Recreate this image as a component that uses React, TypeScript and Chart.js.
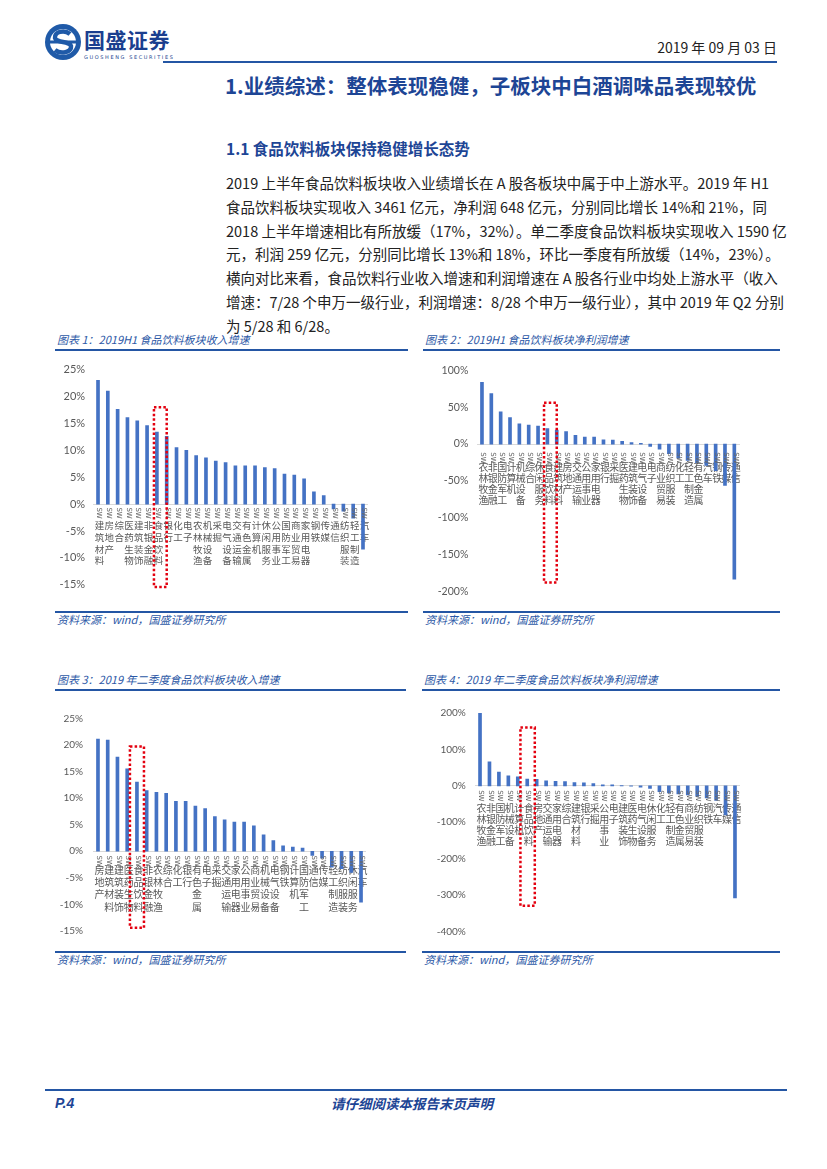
import React, { useEffect, useRef } from "react";
import { Chart, registerables } from "chart.js";
Chart.register(...registerables);

// ---------- DATA ----------
const c1Labels = ["建筑材料","房地产","综合","医药生物","建筑装饰","非银金融","食品饮料","银行","化工","电子","农林牧渔","机械设备","采掘","电气设备","交通运输","有色金属","计算机","休闲服务","公用事业","国防军工","商业贸易","家用电器","钢铁","传媒","通信","纺织服装","轻工制造","汽车"];
const c1Values = [23.0,21.0,17.6,16.1,15.5,14.6,13.4,12.6,10.5,10.0,9.0,8.6,8.0,7.7,7.1,7.1,7.1,6.8,6.6,5.6,5.4,4.7,2.3,1.6,-0.9,-1.3,-2.6,-8.4];
const c1YTicks = [25,20,15,10,5,0,-5,-10,-15];

const c2Labels = ["农林牧渔","非银金融","国防军工","计算机","机械设备","综合","休闲服务","食品饮料","建筑材料","房地产","交通运输","公用事业","家用电器","银行","采掘","医药生物","建筑装饰","电气设备","电子","商业贸易","纺织服装","化工","轻工制造","有色金属","汽车","钢铁","传媒","通信"];
const c2Values = [83.6,68.5,43.6,36.0,27.6,25.8,24.5,21.0,19.1,17.0,12.0,9.4,9.4,5.8,5.5,3.6,2.2,0.9,-3.0,-7.0,-13.0,-19.0,-22.0,-25.0,-29.0,-36.0,-56.0,-183.0];
const c2YTicks = [100,50,0,-50,-100,-150,-200];

const c3Labels = ["房地产","建筑材料","建筑装饰","医药生物","食品饮料","非银金融","农林牧渔","综合","化工","银行","有色金属","电子","采掘","交通运输","家用电器","公用事业","商业贸易","机械设备","电气设备","钢铁","计算机","国防军工","通信","传媒","轻工制造","纺织服装","休闲服务","汽车"];
const c3Values = [21.1,20.9,17.7,15.5,13.0,11.4,11.1,10.9,9.4,9.4,8.5,8.0,6.5,5.9,5.5,5.5,4.8,3.1,2.0,1.0,0.8,0.6,-0.8,-1.3,-3.0,-3.3,-4.0,-9.6];
const c3YTicks = [25,20,15,10,5,0,-5,-10,-15];

const c4Labels = ["农林牧渔","非银金融","国防军工","机械设备","计算机","食品饮料","房地产","交通运输","家用电器","综合","建筑材料","银行","采掘","公用事业","电子","建筑装饰","医药生物","电气设备","休闲服务","化工","轻工制造","有色金属","商业贸易","纺织服装","钢铁","汽车","传媒","通信"];
const c4Values = [201,65.6,38,27.5,24.8,18.5,18.0,14.0,12.4,11.5,8.8,8.0,6.2,3.0,2.5,1.0,-1.0,-3.5,-7.0,-16.0,-19.5,-22.0,-25.0,-29.0,-33.0,-40.0,-80.0,-308.0];
const c4YTicks = [200,100,0,-100,-200,-300,-400];

const HIGHLIGHT = "食品饮料";

// ---------- STYLES ----------
const BLUE = "#1d4595";
const LINE_BLUE = "#2456a4";
const BAR = "#4472c4";
const CJK = '"Noto Sans CJK SC", "Noto Sans", sans-serif';

type Rect = { left: number; top: number; width: number; height: number };
type Area = { left: number; top: number; right: number; bottom: number };

type PanelProps = {
  labels: string[];
  values: number[];
  yTicks: number[];
  cv: Rect;
  area: Area;
  yPad: number;
  yFont: number;
  xPad: number;
  xLine: number;
  xFont: number;
  swOff: number;
  box: { l: number; r: number; top: number; bottom: number };
};

function BarPanel(p: PanelProps) {
  const ref = useRef<HTMLCanvasElement | null>(null);
  useEffect(() => {
    if (!ref.current) return;
    const min = Math.min(...p.yTicks);
    const max = Math.max(...p.yTicks);
    const step = Math.abs(p.yTicks[0] - p.yTicks[1]);
    const hi = p.labels.indexOf(HIGHLIGHT);
    const overlay = {
      id: "overlay",
      afterDraw(chart: any) {
        const { ctx } = chart;
        const x = chart.scales.x;
        const y = chart.scales.y;
        const y0 = y.getPixelForValue(0);
        ctx.save();
        ctx.font = '7px "DejaVu Sans", sans-serif';
        ctx.fillStyle = "#666666";
        ctx.textAlign = "center";
        ctx.textBaseline = "middle";
        p.labels.forEach((_, i) => {
          const px = x.getPixelForValue(i) + 1;
          ctx.save();
          ctx.translate(px, y0 + p.swOff);
          ctx.rotate(Math.PI / 2);
          ctx.fillText("SW", 0, 0);
          ctx.restore();
        });
        const bl = x.getPixelForValue(hi + p.box.l);
        const br = x.getPixelForValue(hi + p.box.r);
        const bt = y.getPixelForValue(p.box.top);
        const bb = y.getPixelForValue(p.box.bottom);
        ctx.strokeStyle = "#e3000f";
        ctx.lineWidth = 2.5;
        ctx.setLineDash([2.5, 2.2]);
        ctx.strokeRect(bl, bt, br - bl, bb - bt);
        ctx.restore();
      },
    };
    const chart = new Chart(ref.current, {
      type: "bar",
      data: {
        labels: p.labels.map((s) => s.split("")),
        datasets: [
          {
            data: p.values,
            backgroundColor: BAR,
            barThickness: 3,
          },
        ],
      },
      options: {
        animation: false,
        responsive: false,
        maintainAspectRatio: false,
        devicePixelRatio: 1,
        layout: {
          padding: {
            left: 0,
            top: p.area.top - p.cv.top,
            right: p.cv.left + p.cv.width - p.area.right,
            bottom: p.cv.top + p.cv.height - p.area.bottom,
          },
        },
        plugins: { legend: { display: false }, tooltip: { enabled: false }, title: { display: false } },
        scales: {
          x: {
            type: "category",
            position: { y: 0 } as any,
            offset: true,
            grid: { display: false, drawTicks: false },
            border: { display: true, color: "#d9d9d9", width: 1 },
            ticks: {
              autoSkip: false,
              maxRotation: 0,
              minRotation: 0,
              padding: p.xPad,
              labelOffset: 1.5,
              color: "#595959",
              font: { family: CJK, size: p.xFont, lineHeight: p.xLine / p.xFont },
            },
          },
          y: {
            type: "linear",
            min,
            max,
            afterFit: (s: any) => {
              s.width = p.area.left - p.cv.left;
            },
            afterBuildTicks: (s: any) => {
              s.ticks = p.yTicks.map((v) => ({ value: v }));
            },
            grid: { display: false, drawTicks: false },
            border: { display: false },
            ticks: {
              stepSize: step,
              padding: p.yPad,
              color: "#595959",
              font: { family: "Lato, 'Open Sans', sans-serif", size: p.yFont },
              callback: (v: any) => `${v}%`,
            },
          },
        },
      } as any,
      plugins: [overlay],
    });
    return () => chart.destroy();
  }, []);
  return (
    <canvas
      ref={ref}
      width={p.cv.width}
      height={p.cv.height}
      style={{ position: "absolute", left: p.cv.left, top: p.cv.top, width: p.cv.width, height: p.cv.height }}
    />
  );
}

const abs = (left: number, top: number, extra: React.CSSProperties = {}): React.CSSProperties => ({
  position: "absolute",
  left,
  top,
  whiteSpace: "nowrap",
  ...extra,
});

const paraLines = [
  "2019 上半年食品饮料板块收入业绩增长在 A 股各板块中属于中上游水平。2019 年 H1",
  "食品饮料板块实现收入 3461 亿元，净利润 648 亿元，分别同比增长 14%和 21%，同",
  "2018 上半年增速相比有所放缓（17%，32%）。单二季度食品饮料板块实现收入 1590 亿",
  "元，利润 259 亿元，分别同比增长 13%和 18%，环比一季度有所放缓（14%，23%）。",
  "横向对比来看，食品饮料行业收入增速和利润增速在 A 股各行业中均处上游水平（收入",
  "增速：7/28 个申万一级行业，利润增速：8/28 个申万一级行业），其中 2019 年 Q2 分别",
  "为 5/28 和 6/28。",
];

function Hline({ x1, x2, y, h = 2 }: { x1: number; x2: number; y: number; h?: number }) {
  return <div style={{ position: "absolute", left: x1, top: y, width: x2 - x1, height: h, background: LINE_BLUE }} />;
}

function PanelFrame({ x1, x2, top, bottom, title }: { x1: number; x2: number; top: number; bottom: number; title: string }) {
  const txt: React.CSSProperties = { fontFamily: CJK, fontStyle: "italic", fontSize: 11, color: "#2c58a6", lineHeight: "14px" };
  return (
    <>
      <div style={abs(x1 + 2, top - 17, txt)}>{title}</div>
      <Hline x1={x1} x2={x2} y={top} />
      <Hline x1={x1} x2={x2} y={bottom} />
      <div style={abs(x1 + 2, bottom + 1, txt)}>资料来源：wind，国盛证券研究所</div>
    </>
  );
}

export default function App() {
  return (
    <div style={{ position: "absolute", left: 0, top: 0, width: 827, height: 1169, background: "#fff", overflow: "hidden", fontFamily: CJK }}>
      {/* logo */}
      <svg style={{ position: "absolute", left: 44, top: 23 }} width="38" height="38" viewBox="0 0 38 38">
        <circle cx="19" cy="19" r="18" fill="#1f5aa8" />
        <circle cx="19" cy="19" r="13" fill="#fff" />
        <path d="M26 11 C 20 6, 10 9, 11 15 C 12 20, 26 18, 27 23 C 28 29, 17 32, 11 27" stroke="#1f5aa8" strokeWidth="4.5" fill="none" />
        <rect x="4" y="17.5" width="30" height="3" fill="#1f5aa8" />
      </svg>
      <div style={abs(84, 26, { fontSize: 21, fontWeight: 700, color: "#1b3f8f", letterSpacing: 0.5, lineHeight: "26px" })}>国盛证券</div>
      <div style={abs(84, 54, { fontSize: 5, color: "#1b3f8f", letterSpacing: 1.6, lineHeight: "6px", fontFamily: "DejaVu Sans" })}>GUOSHENG SECURITIES</div>
      <div style={abs(600, 38, { width: 177, textAlign: "right", fontSize: 14, color: "#222", lineHeight: "18px" })}>2019 年 09 月 03 日</div>
      <Hline x1={163} x2={777} y={61} />
      <div style={abs(225, 72, { fontSize: 20.5, fontWeight: 700, color: BLUE, lineHeight: "26px" })}>1.业绩综述：整体表现稳健，子板块中白酒调味品表现较优</div>

      <div style={abs(226, 138, { fontSize: 15.5, fontWeight: 700, color: BLUE, lineHeight: "20px" })}>1.1 食品饮料板块保持稳健增长态势</div>
      {paraLines.map((t, i) => (
        <div
          key={i}
          style={{
            position: "absolute",
            left: 226,
            top: 171 + i * 23.8,
            width: 541,
            fontSize: 14.5,
            lineHeight: "24px",
            color: "#222",
            whiteSpace: "nowrap",
            textAlign: i < paraLines.length - 1 ? "justify" : "left",
            textAlignLast: i < paraLines.length - 1 ? "justify" : "left",
          } as React.CSSProperties}
        >
          {t}
        </div>
      ))}

      <PanelFrame x1={55} x2={408} top={349} bottom={611} title="图表 1：2019H1 食品饮料板块收入增速" />
      <PanelFrame x1={423} x2={780} top={349} bottom={611} title="图表 2：2019H1 食品饮料板块净利润增速" />
      <PanelFrame x1={55} x2={406} top={689} bottom={951} title="图表 3：2019 年二季度食品饮料板块收入增速" />
      <PanelFrame x1={422} x2={780} top={689} bottom={951} title="图表 4：2019 年二季度食品饮料板块净利润增速" />

      <BarPanel
        labels={c1Labels}
        values={c1Values}
        yTicks={c1YTicks}
        cv={{ left: 55, top: 355, width: 345, height: 252 }}
        area={{ left: 93.1, top: 369.3, right: 367.9, bottom: 584.8 }}
        yPad={8}
        yFont={11}
        xPad={15.6}
        xLine={11.7}
        xFont={9.5}
        swOff={9}
        box={{ l: -0.3, r: 1.0, top: 18, bottom: -15.4 }}
      />
      <BarPanel
        labels={c2Labels}
        values={c2Values}
        yTicks={c2YTicks}
        cv={{ left: 425, top: 355, width: 355, height: 252 }}
        area={{ left: 477.3, top: 367.7, right: 739, bottom: 592.7 }}
        yPad={9}
        yFont={10.5}
        xPad={17.2}
        xLine={11.1}
        xFont={10}
        swOff={13.8}
        box={{ l: -0.36, r: 1.0, top: 56, bottom: -187.5 }}
      />
      <BarPanel
        labels={c3Labels}
        values={c3Values}
        yTicks={c3YTicks}
        cv={{ left: 55, top: 695, width: 345, height: 252 }}
        area={{ left: 93.1, top: 718.3, right: 365.9, bottom: 933 }}
        yPad={10}
        yFont={10}
        xPad={12.3}
        xLine={12.4}
        xFont={10}
        swOff={10}
        box={{ l: -0.72, r: 0.72, top: 19.7, bottom: -14.4 }}
      />
      <BarPanel
        labels={c4Labels}
        values={c4Values}
        yTicks={c4YTicks}
        cv={{ left: 425, top: 695, width: 355, height: 252 }}
        area={{ left: 475.3, top: 713, right: 739.7, bottom: 937.5 }}
        yPad={9.5}
        yFont={10}
        xPad={17}
        xLine={11}
        xFont={10}
        swOff={10}
        box={{ l: -0.72, r: 0.8, top: 160, bottom: -329 }}
      />

      <Hline x1={45} x2={787} y={1089} />
      <div style={abs(55, 1094, { fontSize: 14, fontWeight: 700, fontStyle: "italic", color: BLUE, lineHeight: "18px", fontFamily: "Liberation Sans, Arial, sans-serif" })}>P.4</div>
      <div style={abs(331, 1094, { fontSize: 13.5, fontWeight: 700, fontStyle: "italic", color: BLUE, lineHeight: "18px" })}>请仔细阅读本报告末页声明</div>
    </div>
  );
}
